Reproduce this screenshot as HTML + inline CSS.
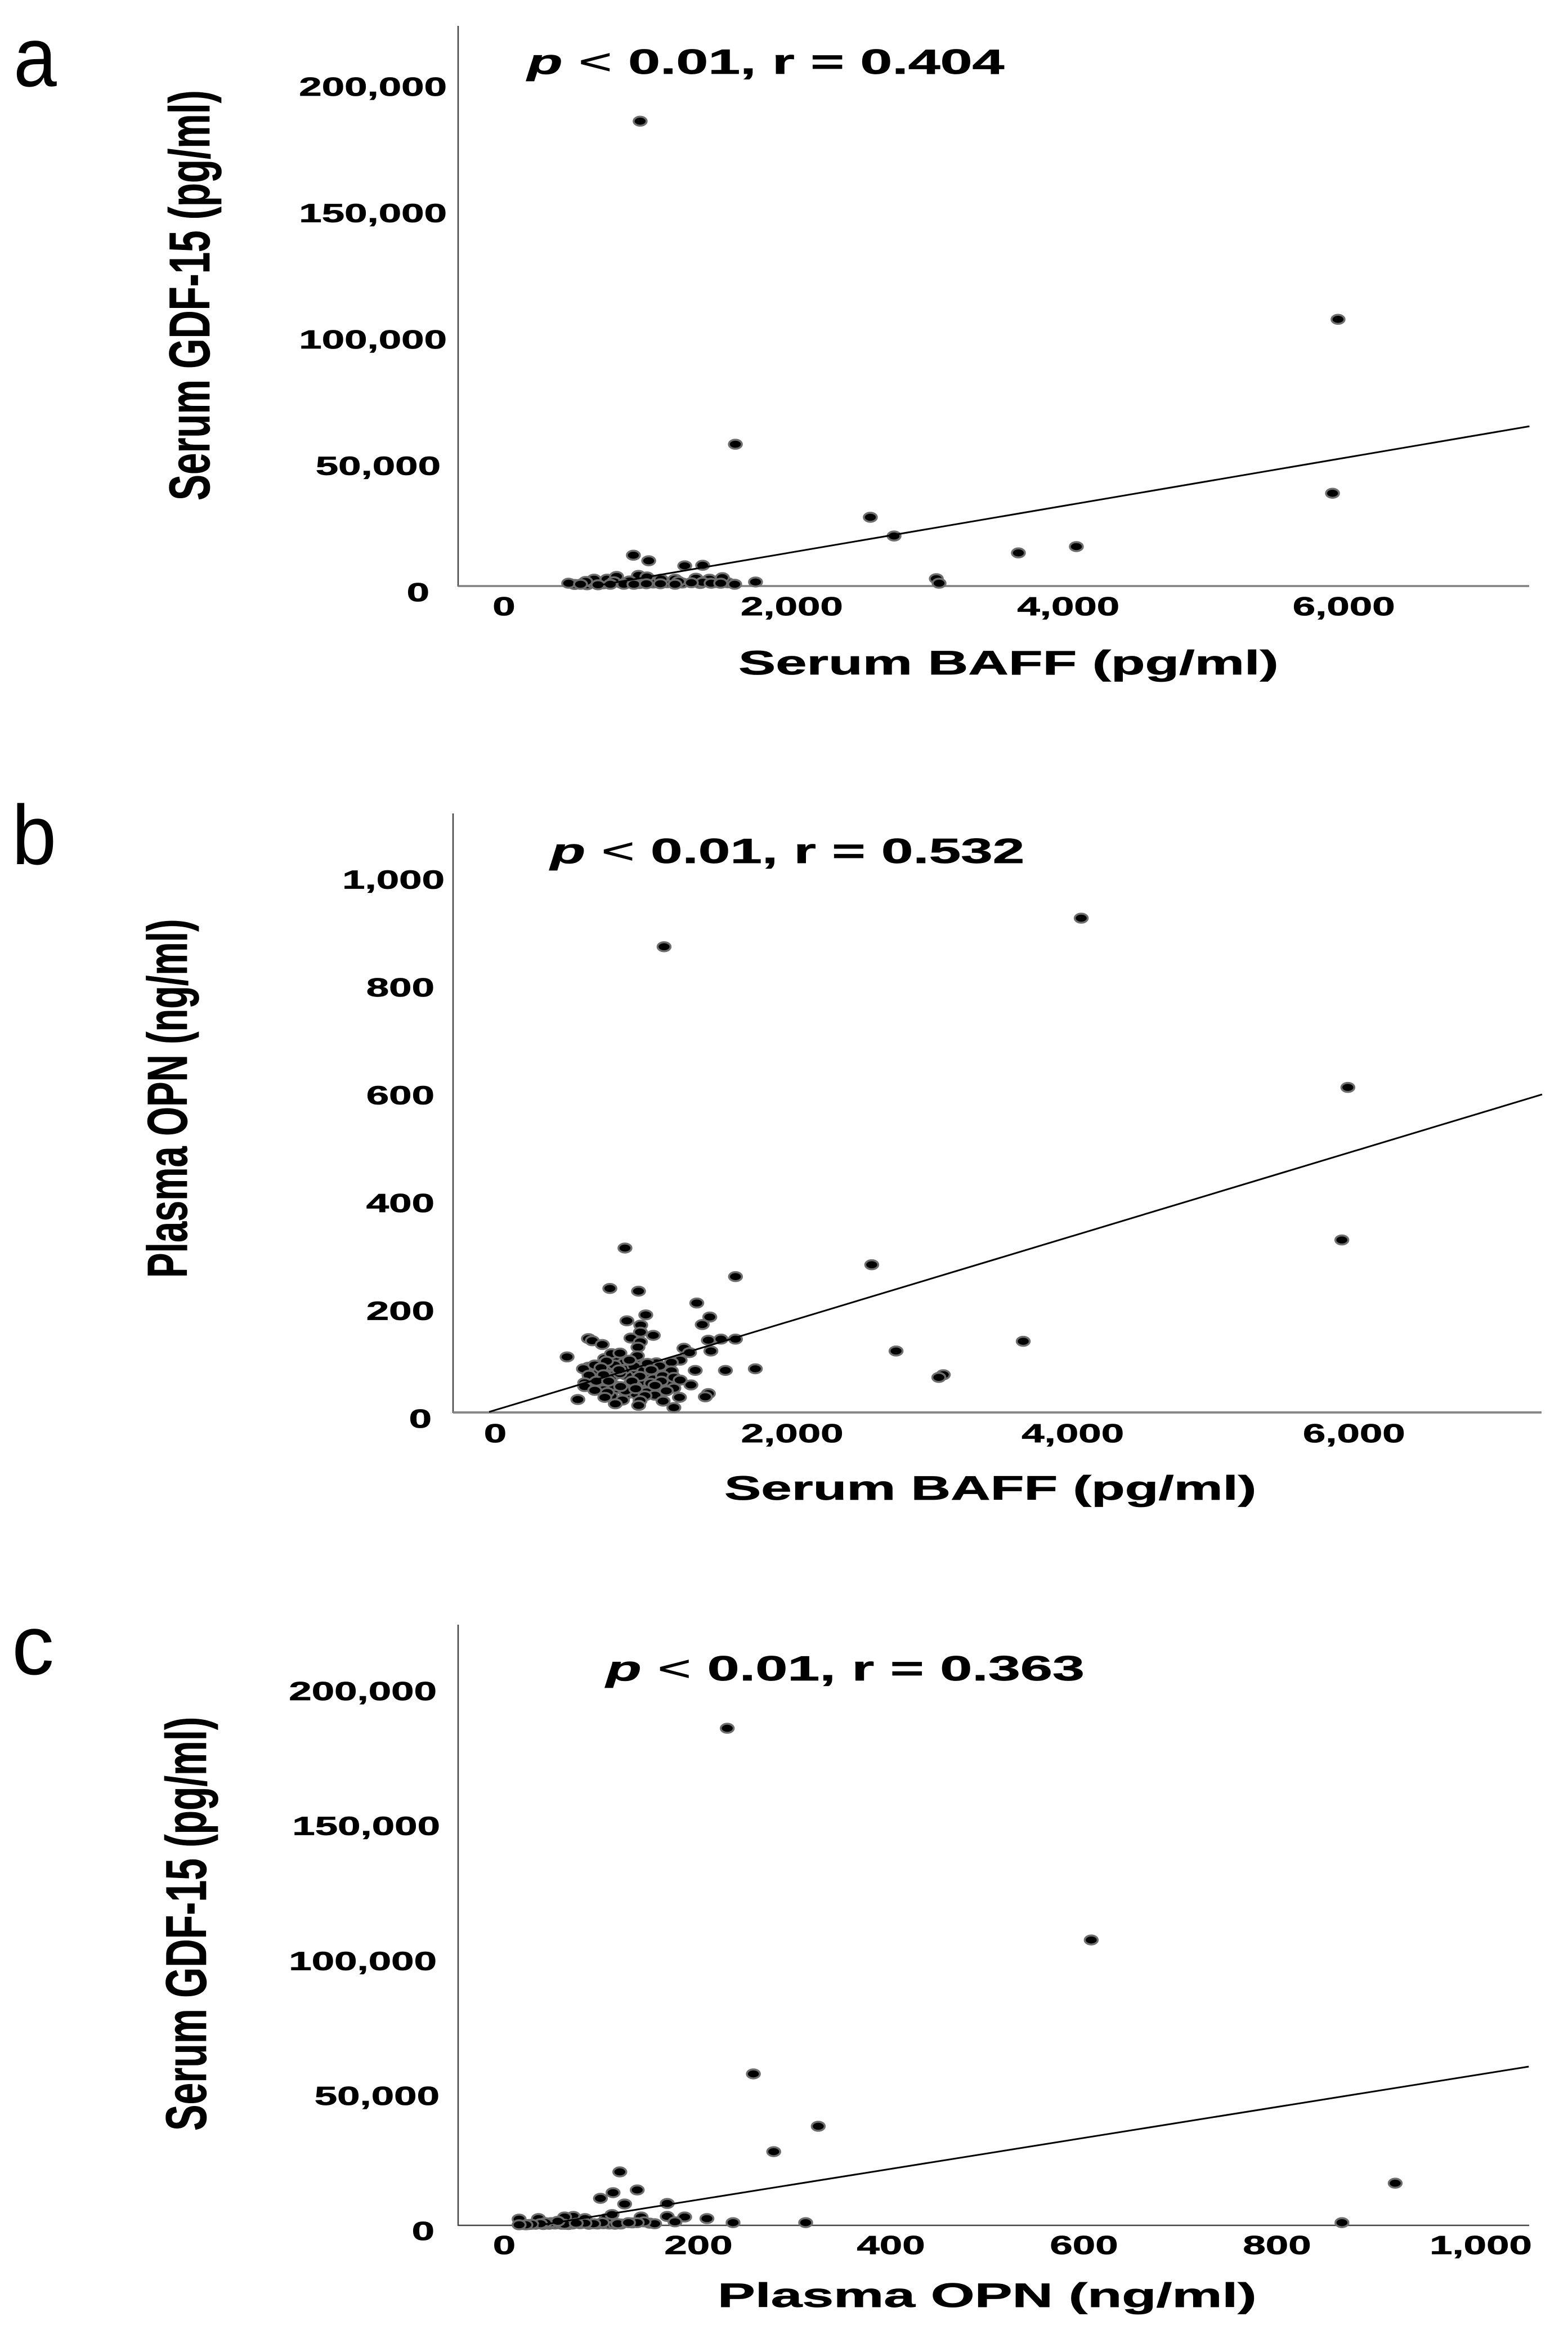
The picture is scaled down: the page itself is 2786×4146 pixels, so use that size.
<!DOCTYPE html>
<html lang="en">
<head>
<meta charset="utf-8">
<title>Correlation scatter plots of BAFF, OPN and GDF-15</title>
<style>
html,body{margin:0;padding:0;background:#fff;}
svg{display:block;}
text{font-family:"Liberation Sans",Arial,sans-serif;fill:#000;}
.bold{font-weight:700;stroke:#000;stroke-width:0.7px;}
</style>
</head>
<body>
<svg id="chart" xmlns="http://www.w3.org/2000/svg" width="2786" height="4146" viewBox="0 0 2786 4146">
  <rect x="0" y="0" width="2786" height="4146" fill="#fff"/>

  <g id="panel-a">
    <text font-size="150" transform="translate(24,153) scale(0.92,1)">a</text>
    <text class="bold" font-size="62" transform="translate(937,131) scale(1.65,1)"><tspan font-style="italic">p</tspan> <tspan font-weight="400">&lt;</tspan> 0.01, r = 0.404</text>
    <text class="bold" font-size="102" transform="translate(372,889) rotate(-90) scale(0.677,1)">Serum GDF-15 (pg/ml)</text>
    <text class="bold" font-size="60" transform="translate(1312,1198) scale(1.655,1)">Serum BAFF (pg/ml)</text>
  </g>

  <g id="panel-b">
    <text font-size="150" transform="translate(21,1535) scale(0.95,1)">b</text>
    <text class="bold" font-size="62" transform="translate(978,1533) scale(1.64,1)"><tspan font-style="italic">p</tspan> <tspan font-weight="400">&lt;</tspan> 0.01, r = 0.532</text>
    <text class="bold" font-size="100" transform="translate(332,2270) rotate(-90) scale(0.667,1)">Plasma OPN (ng/ml)</text>
    <text class="bold" font-size="60" transform="translate(1287,2664) scale(1.63,1)">Serum BAFF (pg/ml)</text>
  </g>

  <g id="panel-c">
    <text x="21" y="2974" font-size="150">c</text>
    <text class="bold" font-size="62" transform="translate(1077,2985) scale(1.655,1)"><tspan font-style="italic">p</tspan> <tspan font-weight="400">&lt;</tspan> 0.01, r = 0.363</text>
    <text class="bold" font-size="102" transform="translate(366,3785) rotate(-90) scale(0.683,1)">Serum GDF-15 (pg/ml)</text>
    <text class="bold" font-size="60" transform="translate(1275,4098) scale(1.67,1)">Plasma OPN (ng/ml)</text>
  </g>
</svg>

<script>
// ---------- Panel a: Serum BAFF vs Serum GDF-15 ----------
var aBaff = [430,520,560,640,700,770,820,900,1000,1100,1210,1340,1450,1540,
  571,665,734,893,954,1056,1158,1309,1407,1501,510,828,714,1183,1358,
  905,5962,1595,5922,2573,2745,4066,3646,3051,3071,
  856,967,1228,1358,1741,
  387,473,600,689,787,860,950,1052,1158,1276,1419,1489,1590];
var aGdf = [600,500,1300,900,1200,1100,1300,1000,1200,1300,1200,1000,1400,1300,
  2700,2700,3800,4200,3600,2700,2700,3100,2700,3300,1800,2000,1700,1800,1500,
  183900,105500,56100,36700,27200,19800,15600,13100,2900,1100,
  12200,10000,8000,8200,1600,
  1100,700,500,700,700,700,900,900,700,1300,1100,1100,700];
var aFitX = [573,7349];
var aFitY = [0,63200];
var aXTicks = [0,2000,4000,6000];
var aXTickLabels = ["0","2,000","4,000","6,000"];
var aYTicks = [0,50000,100000,150000,200000];
var aYTickLabels = ["0","50,000","100,000","150,000","200,000"];

// ---------- Panel b: Serum BAFF vs Plasma OPN ----------
var bBaff = [5968,4060,1075,5925,2561,3645,2735,3073,3041,
  696,768,840,911,606,714,804,947,1109,732,1037,624,947,804,696,876,
  650,730,790,870,960,1020,1090,570,640,720,790,860,930,1000,1070,1130,610,690,760,830,900,980,1040,640,720,800,870,950,1010,
  795,1586,687,892,1309,1402,1348,944,809,908,906,998,838,906,534,561,633,888,1217,1392,1482,1586,1257,1410,884,699,759,381,827,663,1190,1127,1298,1514,1728,
  1043,956,534,498,579,624,753,983,1127,538,642,902,1064,1145,1190,1267,507,591,678,845,1055,507,764,872,1010,1145,1091,579,669,1392,1370,938,1185,651,458,1068,777,903,726,893,1145];
var bOpn = [603,917,864,320,274,132,114,70,65,
  86,97,79,86,79,69,69,58,58,44,48,51,44,34,30,34,
  100,104,92,99,74,92,70,76,90,88,80,86,78,62,82,70,62,64,72,52,56,54,40,42,50,40,48,38,32,
  305,252,230,225,203,177,163,181,170,162,149,143,138,131,137,133,126,121,119,134,136,136,111,114,105,109,110,103,97,95,97,93,78,78,81,
  86,91,84,81,88,83,79,79,77,69,70,67,68,65,60,51,55,58,58,58,58,48,48,44,50,45,40,41,37,35,29,31,28,28,24,21,23,22,16,13,9];
var bFitX = [-177,7358];
var bFitY = [1,590];
var bXTicks = [0,2000,4000,6000];
var bXTickLabels = ["0","2,000","4,000","6,000"];
var bYTicks = [0,200,400,600,800,1000];
var bYTickLabels = ["0","200","400","600","800","1,000"];

// ---------- Panel c: Plasma OPN vs Serum GDF-15 ----------
var cOpn = [17,23,30,38,44,50,57,64,68,76,85,94,100,106,112,118,130,148,
  69,60,81,33,13,103,109,
  228,604,255,322,276,117,918,863,110,135,97,122,166,139,166,184,207,234,309,
  174,153,142,135,115,126,99,90,81,60,72,46,53,40,35,26,20,13];
var cGdf = [300,300,400,300,400,500,400,300,500,600,400,500,600,500,400,500,900,800,
  3300,3100,2500,2500,2300,2500,4000,
  184100,105700,56100,36700,27300,19800,15600,1000,12100,13100,10000,7900,8100,3100,3300,3100,2500,1000,1000,
  1300,600,1300,1000,600,1000,1000,600,800,400,800,1000,1500,1000,600,400,200,200];
var cFitX = [33,1056];
var cFitY = [0,58800];
var cXTicks = [0,200,400,600,800,1000];
var cXTickLabels = ["0","200","400","600","800","1,000"];
var cYTicks = [0,50000,100000,150000,200000];
var cYTickLabels = ["0","50,000","100,000","150,000","200,000"];

var SVGNS = "http://www.w3.org/2000/svg";

function mk(tag, attrs) {
  var el = document.createElementNS(SVGNS, tag);
  for (var k in attrs) { el.setAttribute(k, attrs[k]); }
  return el;
}

function drawPanel(cfg) {
  var root = document.getElementById(cfg.group);
  var xs = function (v) { return cfg.x0 + cfg.xk * v; };
  var ys = function (v) { return cfg.y0 - cfg.yk * v; };

  var yAxis = mk("line", {x1: cfg.left, x2: cfg.left, y1: cfg.top, y2: cfg.y0 + 1, stroke: "#444", "stroke-width": 2.5});
  
  
  root.appendChild(yAxis);

  var xAxis = mk("line", {x1: cfg.left, x2: cfg.right, y1: cfg.y0, y2: cfg.y0, stroke: cfg.xAxisColor, "stroke-width": cfg.xAxisWidth});
  
  
  root.appendChild(xAxis);

  cfg.xTicks.forEach(function (t, i) {
    var lab = mk("text", {"class": "bold", "font-size": 46, "text-anchor": "middle",
      transform: "translate(" + (xs(t) + cfg.xLabelDx[i]) + "," + cfg.xLabelY + ") scale(1.58,1)"});
    lab.textContent = cfg.xTickLabels[i];
    
    
    root.appendChild(lab);
  });

  cfg.yTicks.forEach(function (t, i) {
    var lab = mk("text", {"class": "bold", "font-size": 46, "text-anchor": "end",
      transform: "translate(" + cfg.yLabelRight[i] + "," + (ys(t) + cfg.yLabelDy) + ") scale(1.58,1)"});
    lab.textContent = cfg.yTickLabels[i];
    
    
    root.appendChild(lab);
  });

  cfg.xData.forEach(function (v, i) {
    var dot = mk("ellipse", {cx: xs(v), cy: ys(cfg.yData[i]), rx: 11.5, ry: 8, fill: "#000", stroke: "#6e6e6e", "stroke-width": 3.5});
    
    
    root.appendChild(dot);
  });

  var fit = mk("line", {x1: xs(cfg.fitX[0]), y1: ys(cfg.fitY[0]), x2: xs(cfg.fitX[1]), y2: ys(cfg.fitY[1]), stroke: "#000", "stroke-width": 3});
  
  
  root.appendChild(fit);
}

drawPanel({
  group: "panel-a", left: 814, right: 2717, top: 46,
  x0: 915.5, xk: 0.2452, y0: 1041, yk: 0.00449,
  xAxisColor: "#808080", xAxisWidth: 3.5,
  xLabelY: 1093, xLabelDx: [-20,1,2,1],
  yLabelRight: [763,783,794,794,794], yLabelDy: 27,
  xData: aBaff, yData: aGdf, fitX: aFitX, fitY: aFitY,
  xTicks: aXTicks, xTickLabels: aXTickLabels, yTicks: aYTicks, yTickLabels: aYTickLabels
});

drawPanel({
  group: "panel-b", left: 805, right: 2739, top: 1445,
  x0: 913, xk: 0.2483, y0: 2509, yk: 0.9575,
  xAxisColor: "#888888", xAxisWidth: 4,
  xLabelY: 2562, xLabelDx: [-33,-2,0,3],
  yLabelRight: [767,772,772,772,772,790], yLabelDy: 27,
  xData: bBaff, yData: bOpn, fitX: bFitX, fitY: bFitY,
  xTicks: bXTicks, xTickLabels: bXTickLabels, yTicks: bYTicks, yTickLabels: bYTickLabels
});

drawPanel({
  group: "panel-c", left: 814, right: 2717, top: 2886,
  x0: 900, xk: 1.72, y0: 3953, yk: 0.004796,
  xAxisColor: "#444444", xAxisWidth: 2.5,
  xLabelY: 4004, xLabelDx: [-4,-3,-5,-6,-7,11],
  yLabelRight: [772,781,776,782,776], yLabelDy: 26,
  xData: cOpn, yData: cGdf, fitX: cFitX, fitY: cFitY,
  xTicks: cXTicks, xTickLabels: cXTickLabels, yTicks: cYTicks, yTickLabels: cYTickLabels
});
</script>
</body>
</html>
